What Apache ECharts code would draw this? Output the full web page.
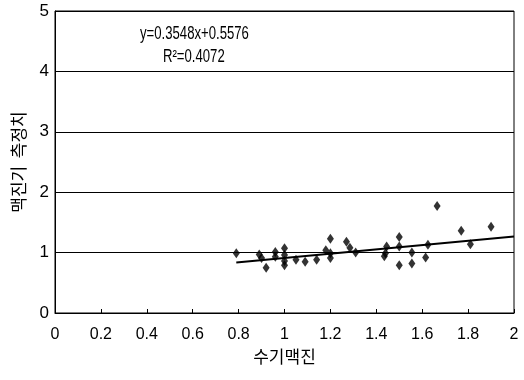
<!DOCTYPE html>
<html><head><meta charset="utf-8">
<script src="https://cdn.jsdelivr.net/npm/echarts@6/dist/echarts.min.js"></script>
<style>html,body{margin:0;padding:0;background:#fff}#c{width:524px;height:380px}</style>
</head><body><div id="c"></div>
<script>
const xLabels = ['0','0.2','0.4','0.6','0.8','1','1.2','1.4','1.6','1.8','2'];
const yLabels = ['0','1','2','3','4','5'];
const handX = [0.79,0.89,0.90,0.92,0.96,0.96,1.0,1.0,1.0,1.0,1.05,1.09,1.14,1.18,1.20,1.20,1.20,1.27,1.285,1.31,1.435,1.44,1.445,1.50,1.50,1.50,1.555,1.555,1.615,1.625,1.665,1.77,1.81,1.90];
const devY  = [0.99,0.97,0.91,0.75,1.01,0.93,1.07,0.96,0.86,0.79,0.88,0.85,0.88,1.04,1.23,0.99,0.91,1.18,1.08,1.00,0.94,0.99,1.10,1.26,1.10,0.79,1.00,0.82,0.92,1.13,1.77,1.36,1.14,1.43];
const slope = 0.3548, intercept = 0.5576;
const fitX = [0.79, 2.0];
const eqText = 'y=0.3548x+0.5576';
const r2Text = 'R²=0.4072';
const xTitle = '수기맥진';
const yTitle = '맥진기  측정치';

const chart = echarts.init(document.getElementById('c'));
const font = 'Liberation Sans, Arial, sans-serif';
chart.setOption({
  animation:false,
  grid:{left:55,right:10,top:11,bottom:67,show:true,borderColor:'#000',borderWidth:1,
    outerBoundsMode:'none',containLabel:false},
  xAxis:{type:'value',min:0,max:2,interval:0.2,
    name:xTitle,nameLocation:'middle',nameGap:35,
    nameTextStyle:{fontSize:17,color:'#000',fontFamily:'Noto Sans CJK KR'},
    axisLine:{lineStyle:{color:'#000',width:1}},
    axisTick:{inside:true,length:4,lineStyle:{color:'#000'}},
    axisLabel:{color:'#000',fontSize:16,fontFamily:'Liberation Sans, Arial',margin:14,
      formatter:(v)=>xLabels[Math.round(v/0.2)]},
    splitLine:{show:false}},
  yAxis:{type:'value',min:0,max:5,interval:1,
    name:yTitle,nameLocation:'middle',nameGap:28,
    nameTextStyle:{fontSize:17,color:'#000',fontFamily:'Noto Sans CJK KR'},
    axisLine:{lineStyle:{color:'#000',width:1}},
    axisTick:{show:false},
    axisLabel:{color:'#000',fontSize:17,fontFamily:'Liberation Sans, Arial',margin:6,
      formatter:(v)=>yLabels[Math.round(v)]},
    splitLine:{show:true,lineStyle:{color:'#000',width:1.2}}},
  series:[
    {type:'scatter',data:handX.map((x,i)=>[x,devY[i]]),symbol:'diamond',symbolSize:[7,10],
      itemStyle:{color:'#000'}},
    {type:'line',data:fitX.map(x=>[x,slope*x+intercept]),symbol:'none',
      lineStyle:{color:'#000',width:2}}
  ],
  graphic:[
    {type:'text',x:140,y:25,scaleX:0.73,style:{text:eqText,fontSize:18,fontFamily:font,fill:'#000'}},
    {type:'text',x:163,y:48,scaleX:0.73,style:{text:r2Text,fontSize:18,fontFamily:font,fill:'#000'}}
  ]
});
</script></body></html>
